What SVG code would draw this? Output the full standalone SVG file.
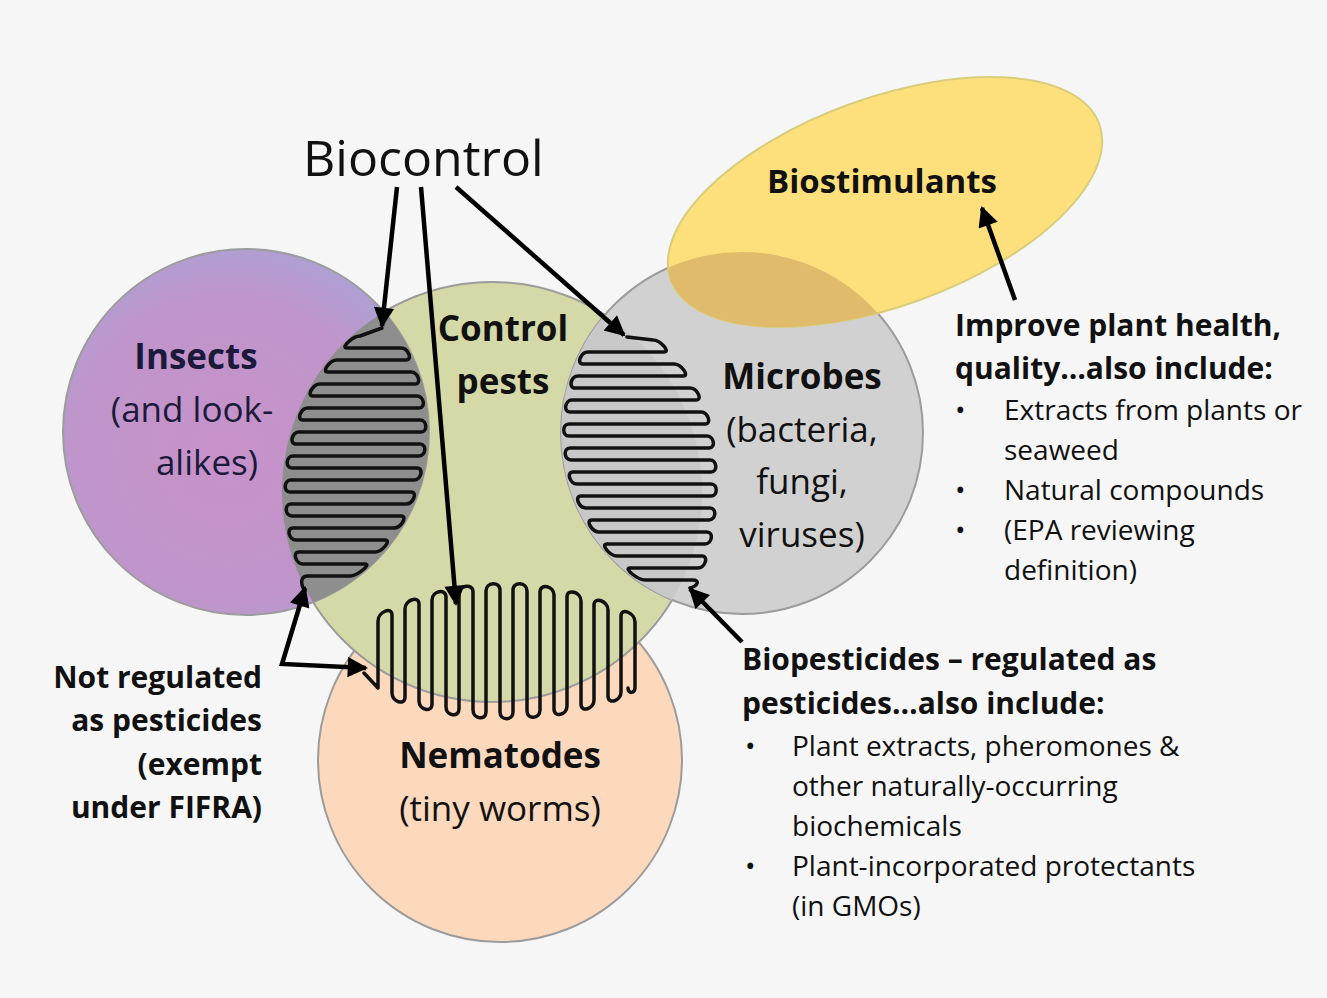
<svg xmlns="http://www.w3.org/2000/svg" width="1327" height="998" viewBox="0 0 1327 998">
<defs>
<style>
.t{font-family:"Open Sans","Noto Sans","Liberation Sans",sans-serif;fill:#111}
.lbl{font-size:35px;text-anchor:middle}
.b{font-weight:bold}
.hd{font-size:30px;font-weight:bold}
.it{font-size:28px}
.circ{stroke:#9c9c9c;stroke-width:2}
.sq{fill:none;stroke:#111;stroke-width:3.5;stroke-linejoin:round;stroke-linecap:round}
.ar{fill:none;stroke:#000;stroke-width:4.5;marker-end:url(#ah)}
</style>
<radialGradient id="gIns" cx="0.45" cy="0.55" r="0.6">
<stop offset="0" stop-color="#c792c9"/>
<stop offset="0.7" stop-color="#bf95cb"/>
<stop offset="1" stop-color="#aba2d5"/>
</radialGradient>
<marker id="ah" viewBox="0 0 10 10" refX="9" refY="5" markerWidth="5" markerHeight="4.5" orient="auto-start-reverse" markerUnits="strokeWidth">
<path d="M0,0 L10,5 L0,10 z" fill="#000"/>
</marker>
<clipPath id="cGreen"><circle cx="492" cy="492" r="210"/></clipPath>
<clipPath id="cMic"><circle cx="742" cy="433" r="181"/></clipPath>
</defs>
<rect width="1327" height="998" fill="#f6f6f6"/>

<g id="nematodes">
<circle class="circ" cx="500" cy="760" r="182" fill="#fcd8bc"/>
</g>
<g id="control-pests">
<circle class="circ" cx="492" cy="492" r="210" fill="#d4d9a7"/>
</g>
<g id="insects">
<circle class="circ" cx="246" cy="432" r="183" fill="url(#gIns)"/>
<circle cx="246" cy="432" r="183" fill="#8e8e8e" clip-path="url(#cGreen)"/>
</g>
<g id="microbes">
<circle class="circ" cx="742" cy="433" r="181" fill="#d1d1d1"/>
<circle cx="742" cy="433" r="181" fill="#c8c8c8" clip-path="url(#cGreen)"/>
</g>
<g id="biostimulants">
<ellipse cx="885" cy="202" rx="228" ry="104" transform="rotate(-20 885 202)" fill="#fde07c" stroke="#d9cd7c" stroke-width="2"/>
<g clip-path="url(#cMic)">
<ellipse cx="885" cy="202" rx="228" ry="104" transform="rotate(-20 885 202)" fill="#e0bb6c"/>
</g>
<text class="t b" x="882" y="193" font-size="33" text-anchor="middle">Biostimulants</text>
</g>

<g id="squiggles">
<path class="sq" d="M382 328 L360 336 C353 336 340 348 347 348 L401 348 C408 348 413 360 406 360 L337 360 C330 360 321 372 328 372 L411 372 C418 372 422 384 415 384 L320 384 C313 384 306 396 313 396 L417 396 C424 396 426 408 419 408 L308 408 C301 408 296 420 303 420 L420 420 C427 420 428 432 421 432 L299 432 C292 432 289 444 296 444 L420 444 C427 444 426 456 419 456 L293 456 C286 456 285 468 292 468 L417 468 C424 468 421 480 414 480 L291 480 C284 480 283 492 290 492 L411 492 C418 492 413 504 406 504 L291 504 C284 504 285 516 292 516 L401 516 C408 516 401 528 394 528 L293 528 C286 528 289 540 296 540 L385 540 C392 540 382 552 375 552 L299 552 C292 552 296 564 303 564 L365 564 C372 564 357 576 350 576 L308 576 C301 576 300 582 304 590"/>
<path class="sq" d="M627 337 L653 340 C660 340 671 352 664 352 L588 352 C581 352 576 364 583 364 L674 364 C681 364 690 376 683 376 L578 376 C571 376 568 388 575 388 L690 388 C697 388 703 400 696 400 L572 400 C565 400 563 412 570 412 L701 412 C708 412 712 424 705 424 L569 424 C562 424 562 436 569 436 L707 436 C714 436 716 448 709 448 L570 448 C563 448 564 460 571 460 L710 460 C717 460 718 472 711 472 L573 472 C566 472 570 484 577 484 L711 484 C718 484 718 496 711 496 L581 496 C574 496 579 508 586 508 L710 508 C717 508 716 520 709 520 L592 520 C585 520 592 532 599 532 L707 532 C714 532 712 544 705 544 L607 544 C600 544 610 556 617 556 L702 556 C709 556 705 568 698 568 L630 568 C623 568 638 580 645 580 L693 580 C700 580 698 586 690 588"/>
<path class="sq" d="M364 673 L378 688 L378 621 C378 612 392 606 392 615 L392 693 C392 702 405 706 405 697 L405 609 C405 600 419 595 419 604 L419 701 C419 710 432 713 432 704 L432 600 C432 591 446 588 446 597 L446 707 C446 716 459 718 459 709 L459 594 C459 585 473 583 473 592 L473 710 C473 719 486 721 486 712 L486 591 C486 582 500 581 500 590 L500 712 C500 721 513 721 513 712 L513 590 C513 581 527 582 527 591 L527 711 C527 720 540 719 540 710 L540 592 C540 583 554 586 554 595 L554 709 C554 718 567 715 567 706 L567 597 C567 588 581 592 581 601 L581 704 C581 713 594 709 594 700 L594 605 C594 596 608 601 608 610 L608 696 C608 705 621 701 621 692 L621 616 C621 607 635 613 635 622 L635 687 C635 694 628 694 628 688"/>
</g>

<g id="connectors">
<line class="ar" x1="397" y1="187" x2="382" y2="326"/>
<line class="ar" x1="421" y1="187" x2="456" y2="604"/>
<line class="ar" x1="456" y1="187" x2="624" y2="335"/>
<line class="ar" x1="1015" y1="300" x2="982" y2="208"/>
<line class="ar" x1="742" y1="642" x2="690" y2="589"/>
<polyline class="ar" points="305,588 282,664 366,668" style="marker-start:url(#ah)"/>
</g>

<g id="biocontrol">
<text class="t" x="303" y="176" font-size="50">Biocontrol</text>
</g>
<g id="insects-label">
<text class="t lbl b" x="196" y="369" style="fill:#1b1a3a">Insects</text>
<text class="t lbl" x="192" y="422" style="fill:#1b1a3a">(and look-</text>
<text class="t lbl" x="207" y="475" style="fill:#1b1a3a">alikes)</text>
</g>
<g id="control-label">
<text class="t lbl b" x="503" y="341">Control</text>
<text class="t lbl b" x="503" y="394">pests</text>
</g>
<g id="microbes-label">
<text class="t lbl b" x="802" y="389">Microbes</text>
<text class="t lbl" x="802" y="442">(bacteria,</text>
<text class="t lbl" x="802" y="494">fungi,</text>
<text class="t lbl" x="802" y="547">viruses)</text>
</g>
<g id="nematodes-label">
<text class="t lbl b" x="500" y="768">Nematodes</text>
<text class="t lbl" x="500" y="821">(tiny worms)</text>
</g>
<g id="biostimulants-note">
<text class="t hd" x="955" y="336">Improve plant health,</text>
<text class="t hd" x="955" y="379">quality…also include:</text>
<text class="t it" x="955" y="420">•</text>
<text class="t it" x="1004" y="420">Extracts from plants or</text>
<text class="t it" x="1004" y="460">seaweed</text>
<text class="t it" x="955" y="500">•</text>
<text class="t it" x="1004" y="500">Natural compounds</text>
<text class="t it" x="955" y="540">•</text>
<text class="t it" x="1004" y="540">(EPA reviewing</text>
<text class="t it" x="1004" y="580">definition)</text>
</g>
<g id="biopesticides-note">
<text class="t hd" x="742" y="670">Biopesticides – regulated as</text>
<text class="t hd" x="742" y="714">pesticides…also include:</text>
<text class="t it" x="745" y="756">•</text>
<text class="t it" x="792" y="756">Plant extracts, pheromones &amp;</text>
<text class="t it" x="792" y="796">other naturally-occurring</text>
<text class="t it" x="792" y="836">biochemicals</text>
<text class="t it" x="745" y="876">•</text>
<text class="t it" x="792" y="876">Plant-incorporated protectants</text>
<text class="t it" x="792" y="916">(in GMOs)</text>
</g>
<g id="not-regulated-note">
<text class="t hd" x="262" y="688" text-anchor="end">Not regulated</text>
<text class="t hd" x="262" y="731" text-anchor="end">as pesticides</text>
<text class="t hd" x="262" y="775" text-anchor="end">(exempt</text>
<text class="t hd" x="262" y="818" text-anchor="end">under FIFRA)</text>
</g>
</svg>
